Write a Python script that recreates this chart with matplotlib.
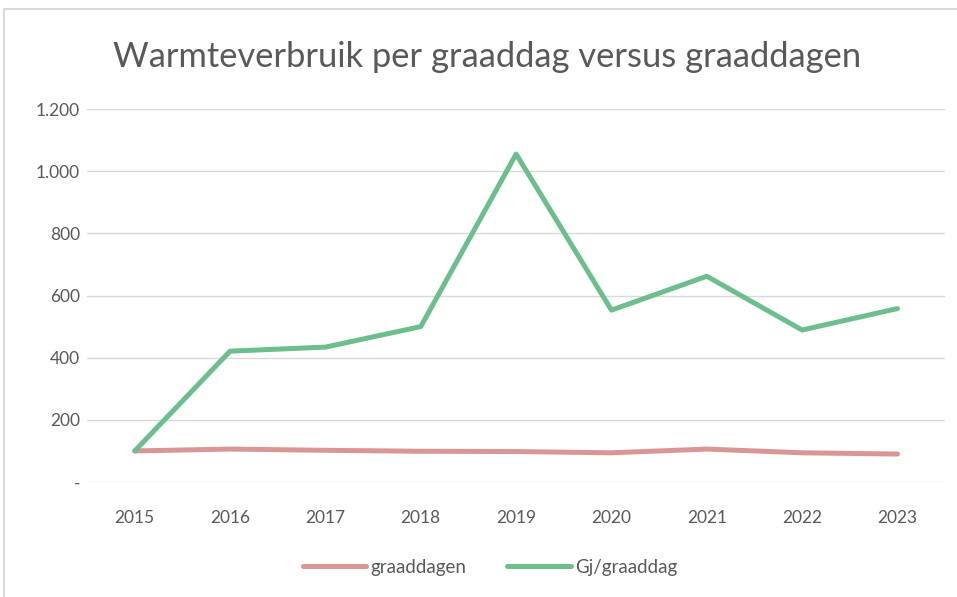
import matplotlib
matplotlib.use('Agg')
import matplotlib.pyplot as plt
from matplotlib.patches import Rectangle
from matplotlib.ticker import FuncFormatter

years = ['2015', '2016', '2017', '2018', '2019', '2020', '2021', '2022', '2023']
graaddagen = [100, 106, 102, 99, 98, 94, 106, 94, 90]
gj_per_graaddag = [100, 421, 434, 500, 1055, 553, 662, 489, 558]

plt.rcParams['font.family'] = ['Lato', 'DejaVu Sans']
txt = '#595959'

fig = plt.figure(figsize=(9.57, 5.97), dpi=100)
ax = fig.add_axes([0.091, 0.1926, 0.8966, 0.6248])

# thin grey border like the Excel chart area
fig.patches.append(Rectangle((4 / 957, -0.1), 1.2, 1 - 9 / 597 + 0.1,
                             transform=fig.transFigure, fill=False,
                             edgecolor='#D9D9D9', linewidth=1.5))

x = list(range(len(years)))
ax.plot(x, graaddagen, color='#DA9694', linewidth=3.6, label='graaddagen',
        solid_capstyle='round', solid_joinstyle='round')
ax.plot(x, gj_per_graaddag, color='#6DBE8D', linewidth=3.6, label='Gj/graaddag',
        solid_capstyle='round', solid_joinstyle='round')

ax.set_xlim(-0.5, len(years) - 0.5)
ax.set_ylim(0, 1200)
ax.set_yticks(range(0, 1201, 200))
ax.yaxis.set_major_formatter(FuncFormatter(
    lambda v, p: '-' if v == 0 else f'{int(v):,}'.replace(',', '.')))
ax.set_xticks(x)
ax.set_xticklabels(years)
ax.grid(axis='y', color='#D9D9D9', linewidth=1)
ax.set_axisbelow(True)
for s in ax.spines.values():
    s.set_visible(False)
ax.tick_params(length=0, colors=txt, labelsize=12.5)
ax.tick_params(axis='x', pad=20)
ax.tick_params(axis='y', pad=5)

fig.text(0.509, 0.905, 'Warmteverbruik per graaddag versus graaddagen',
         ha='center', va='center', fontsize=24.8, color=txt)

leg = fig.legend(loc='center', bbox_to_anchor=(0.512, 0.05), ncol=2, frameon=False,
                 fontsize=13.5, handlelength=3.4, handletextpad=0.2, columnspacing=2.2)
for t in leg.get_texts():
    t.set_color(txt)

fig.savefig('out.png', dpi=100)
